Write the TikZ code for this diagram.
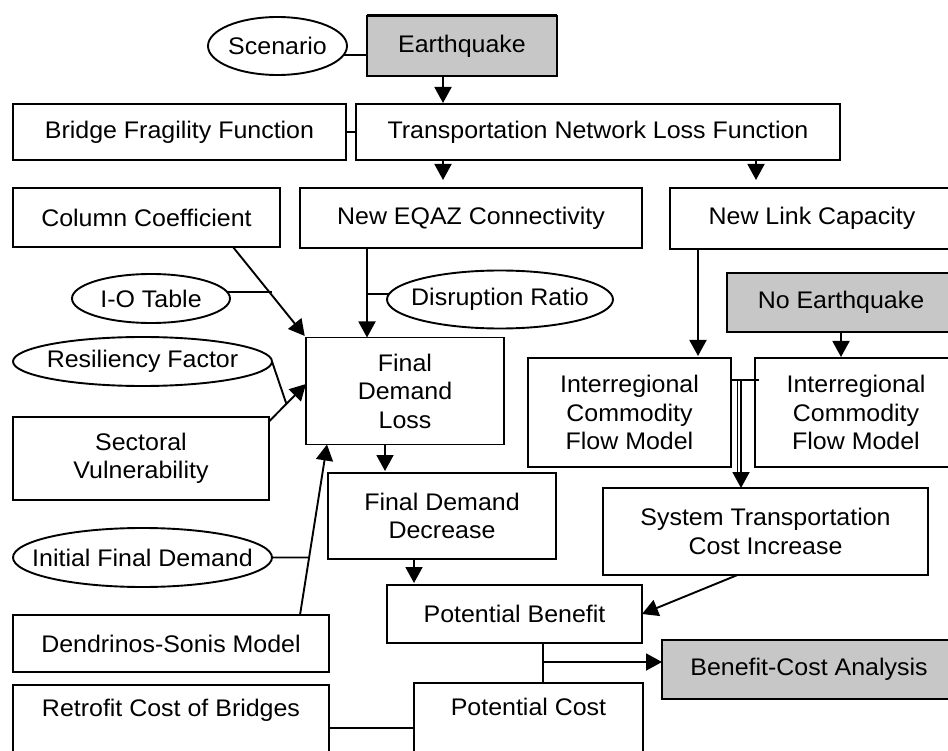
\documentclass[tikz,border=0pt]{standalone}
\usepackage{fontspec}
\setmainfont{Liberation Sans}[FakeStretch=1.04]
\usetikzlibrary{arrows.meta,shapes.geometric,calc}
\newcommand\zw[1]{\makebox[0pt]{#1}}
\begin{document}
\begin{tikzpicture}[x=1pt,y=-1pt,
  every node/.style={font=\fontsize{24}{28.5}\selectfont, text=black},
  bx/.style={draw, line width=1.9pt, align=center, inner sep=0pt, outer sep=0pt},
  gbx/.style={bx, fill=black!22},
  ell/.style={draw, ellipse, line width=1.9pt, inner sep=0pt, outer sep=0pt, align=center},
  ln/.style={line width=1.9pt},
  arr/.style={line width=1.9pt, -{Triangle[width=17pt,length=16pt]}},
]
\useasboundingbox (0,0) rectangle (948,751);
\clip (0,0) rectangle (948,751);

% nodes
\node[ell, minimum width=139, minimum height=58] (scen) at (277.5,46) {\zw{Scenario}};
\node[gbx, minimum width=190, minimum height=60] (earth) at (462,46) {Earthquake};
\node[bx, minimum width=333, minimum height=56] (bridge) at (179.5,132) {Bridge Fragility Function};
\node[bx, minimum width=484, minimum height=56] (trans) at (598,132) {Transportation Network Loss Function};
\node[bx, minimum width=267, minimum height=59] (colc) at (146.5,217.5) {Column Coefficient};
\node[bx, minimum width=342, minimum height=60] (eqaz) at (471,218) {New EQAZ Connectivity};
\node[bx, minimum width=284, minimum height=61] (nlc) at (812,218.5) {New Link Capacity};
\node[ell, minimum width=158, minimum height=49] (ioe) at (151,298.5) {\zw{I-O Table}};
\node[ell, minimum width=226, minimum height=58] (disr) at (500,299.5) {\zw{Disruption Ratio}};
\node[gbx, minimum width=228, minimum height=59] (noeq) at (841,302.5) {No Earthquake};
\node[bx, minimum width=198, minimum height=107] (fdl) at (405,391) {Final\\Demand\\Loss};
\node[ell, minimum width=259, minimum height=49] (resf) at (142.5,361.5) {\zw{Resiliency Factor}};
\node[bx, minimum width=256, minimum height=83] (sect) at (141,458.5) {Sectoral\\Vulnerability};
\node[bx, minimum width=203, minimum height=109] (icl) at (629.5,412.5) {Interregional\\Commodity\\Flow Model};
\node[bx, minimum width=202, minimum height=109] (icr) at (856,412.5) {Interregional\\Commodity\\Flow Model};
\node[bx, minimum width=228, minimum height=86] (fdd) at (442,516) {Final Demand\\Decrease};
\node[bx, minimum width=325, minimum height=87] (stci) at (765.5,531.5) {System Transportation\\Cost Increase};
\node[ell, minimum width=259, minimum height=59] (ifd) at (142.5,557.5) {\zw{Initial Final Demand}};
\node[bx, minimum width=255, minimum height=58] (pb) at (514.5,614) {Potential Benefit};
\node[bx, minimum width=316, minimum height=57] (dend) at (171,643.5) {Dendrinos-Sonis Model};
\node[gbx, minimum width=294, minimum height=59] (bca) at (809,669.5) {Benefit-Cost Analysis};
\node[bx, minimum width=316, minimum height=82] (retro) at (171,726) {Retrofit Cost of Bridges\\\strut};
\node[bx, minimum width=229, minimum height=84] (pc) at (528.5,725) {Potential Cost\\\strut};

\draw[line width=3pt] (earth.north west) -- (earth.north east);

% helper coordinates
\coordinate (xa) at (443,0);
\coordinate (xb) at (756,0);
\coordinate (c1) at (233,0);
\coordinate (j1) at (272,293);
\coordinate (x367) at (367,0);
\coordinate (d1) at (300,0);
\coordinate (t3) at (327,0);
\coordinate (x385) at (385,0);
\coordinate (x414) at (414,0);
\coordinate (x698) at (698,0);
\coordinate (y380) at (0,380);
\coordinate (v1) at (737.5,380);
\coordinate (v2) at (741,380);
\coordinate (h1) at (543,662);
\coordinate (y728) at (0,728);

% connectors
\draw[ln] (scen.-8) -- (scen.-8 -| earth.west);
\draw[arr, shorten >=1pt] (earth.south -| xa) -- (trans.north -| xa);
\draw[ln] (bridge.east) -- (trans.west);
\draw[arr, shorten >=8pt] (trans.south -| xa) -- (eqaz.north -| xa);
\draw[arr, shorten >=8pt] (trans.south -| xb) -- (nlc.north -| xb);

\draw[arr, shorten >=2pt] (colc.south -| c1) -- (fdl.north west);
\draw[ln] (ioe.5) -- (ioe.5 -| j1);
\draw[arr] (eqaz.south -| x367) -- (fdl.north -| x367);
\draw[ln] (disr.177) -- (disr.177 -| x367);

\coordinate (s0) at ($(sect.east)+(0,-37)$);
\coordinate (t2) at ($(fdl.west)+(0,-7)$);
\draw[arr] (s0) -- (t2);
\draw[ln] (resf.east) -- ($(s0)!0.47!(t2)$);

\draw[arr] (dend.north -| d1) -- (fdl.south -| t3);
\draw[ln] (ifd.east) -- ($(dend.north -| d1)!0.337!(fdl.south -| t3)$);

\draw[arr, shorten >=2pt] (fdl.south -| x385) -- (fdd.north -| x385);
\draw[arr, shorten >=2pt] (fdd.south -| x414) -- (pb.north -| x414);

\draw[arr, shorten >=2pt] (nlc.south -| x698) -- (icl.north -| x698);
\draw[arr, shorten >=1pt] (noeq.south) -- (icr.north -| noeq.south);
\draw[ln] (icl.east |- y380) -- ($(icr.west |- y380)+(4,0)$);
\draw[ln] (v1) -- ($(stci.north -| v1)+(0,-12)$);
\draw[arr] (v2) -- (stci.north -| v2);
\draw[arr] (stci.south -| v1) -- (pb.east);

\draw[ln] (pb.south -| h1) -- (pc.north -| h1);
\draw[arr] (h1) -- (h1 -| bca.west);
\draw[ln] (retro.east |- y728) -- (pc.west |- y728);
\end{tikzpicture}
\end{document}
